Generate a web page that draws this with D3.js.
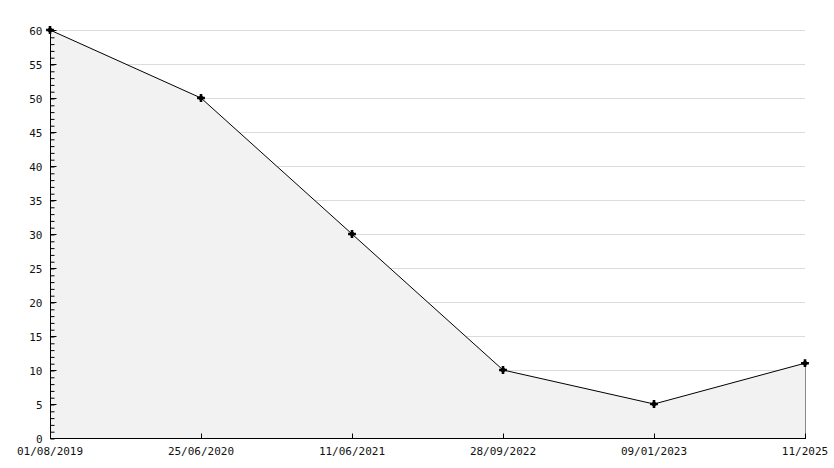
<!DOCTYPE html>
<meta charset="utf-8">
<html lang="en">
<head>
  <title>Line chart</title>
  <script src="https://d3js.org/d3.v7.min.js"></script>
  <style>
    body { margin: 0; background: #fff; }
    text { font-family: "DejaVu Sans Mono", monospace; font-size: 11px; fill: #111; }
  </style>
</head>
<body>
<div id="chart"></div>
<script>
// data
var dates = ["01/08/2019", "25/06/2020", "11/06/2021", "28/09/2022", "09/01/2023", "11/2025"];
var values = [60, 50, 30, 10, 5, 11];
var yTicks = [0, 5, 10, 15, 20, 25, 30, 35, 40, 45, 50, 55, 60];

var margin = {top: 30, right: 29, bottom: 30, left: 50},
    width = 834 - margin.left - margin.right,
    height = 468 - margin.top - margin.bottom;

var svg = d3.select("#chart")
  .append("svg")
    .attr("width", 834)
    .attr("height", 468)
  .append("g")
    .attr("transform", "translate(" + margin.left + "," + margin.top + ")");

var x = d3.scalePoint()
  .domain(dates)
  .range([0, width]);

var y = d3.scaleLinear()
  .domain([0, 60])
  .range([height, 0]);

// gridlines
svg.append("g")
  .selectAll("line")
  .data(yTicks.slice(1))
  .enter()
  .append("line")
    .attr("x1", 0)
    .attr("x2", width)
    .attr("y1", function(d) { return y(d) + 0.5 })
    .attr("y2", function(d) { return y(d) + 0.5 })
    .style("stroke", "#dcdcdc");

// area under the line
var data = dates.map(function(d, i) { return {date: d, value: values[i]} });

svg.append("path")
  .datum(data)
  .attr("d", d3.area()
    .x(function(d) { return x(d.date) })
    .y0(height)
    .y1(function(d) { return y(d.value) }))
  .style("fill", "#f2f2f2");

// right edge of the area
svg.append("line")
  .attr("x1", width + 0.5).attr("x2", width + 0.5)
  .attr("y1", y(values[values.length - 1])).attr("y2", height)
  .style("stroke", "#8a8a8a");

// the line
svg.append("path")
  .datum(data)
  .attr("d", d3.line()
    .x(function(d) { return x(d.date) })
    .y(function(d) { return y(d.value) }))
  .style("fill", "none")
  .style("stroke", "#000")
  .style("stroke-width", 1);

// Y axis with minor ticks
var yMinor = d3.range(0, 61, 1);
svg.append("g")
  .attr("transform", "translate(0.5,0.5)")
  .call(d3.axisRight(y).tickValues(yMinor).tickSize(4).tickFormat(""))
  .call(function(g) { g.select(".domain").remove() });

var yAxis = svg.append("g")
  .attr("transform", "translate(0.5,0.5)")
  .call(d3.axisLeft(y).tickValues(yTicks).tickSize(0).tickPadding(8));
yAxis.select(".domain").remove();
yAxis.selectAll("text").style("font-size", "11px");

svg.append("g")
  .attr("transform", "translate(0.5,0)")
  .selectAll("line")
  .data(yTicks)
  .enter()
  .append("line")
    .attr("x1", 0).attr("x2", 6)
    .attr("y1", function(d) { return y(d) + 0.5 })
    .attr("y2", function(d) { return y(d) + 0.5 })
    .style("stroke", "#000");

svg.append("line")
  .attr("x1", 0.5).attr("x2", 0.5)
  .attr("y1", 0).attr("y2", height)
  .style("stroke", "#000");

// X axis
var xAxis = svg.append("g")
  .attr("transform", "translate(0," + (height + 0.5) + ")")
  .call(d3.axisTop(x).tickSize(5).tickFormat(""));
xAxis.select(".domain").remove();

svg.append("line")
  .attr("x1", 0).attr("x2", width + 1)
  .attr("y1", height + 0.5).attr("y2", height + 0.5)
  .style("stroke", "#000");

svg.append("g")
  .selectAll("text")
  .data(dates)
  .enter()
  .append("text")
    .attr("x", function(d) { return x(d) })
    .attr("y", height + 17)
    .attr("text-anchor", "middle")
    .text(function(d) { return d });

// markers: small filled asterisk-like blobs
var marks = svg.selectAll(".dot")
  .data(data)
  .enter()
  .append("g")
    .attr("class", "dot")
    .attr("transform", function(d) { return "translate(" + x(d.date) + "," + y(d.value) + ")" });
marks.append("path")
  .attr("d", d3.symbol().type(d3.symbolCross).size(34))
  .style("fill", "#000");
marks.append("path")
  .attr("d", d3.symbol().type(d3.symbolSquare).size(22))
  .attr("transform", "rotate(45)")
  .style("fill", "#000");
</script>
</body>
</html>
